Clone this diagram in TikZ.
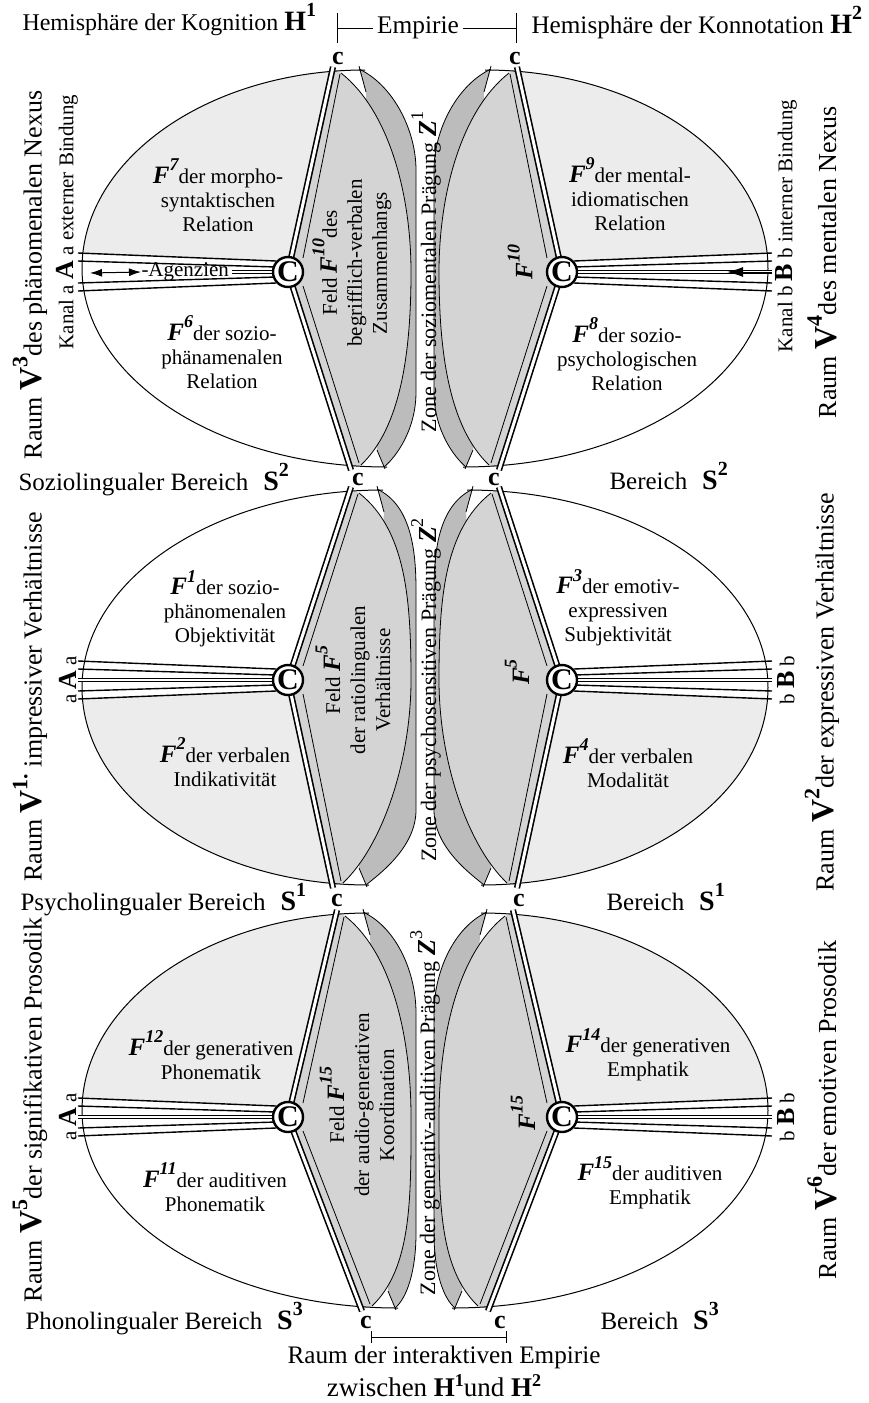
\documentclass[tikz,border=0pt]{standalone}
\usepackage{fontspec}
\setmainfont{Liberation Serif}
\usetikzlibrary{arrows.meta}

\definecolor{fieldgray}{RGB}{236,236,236}
\definecolor{lensgray}{RGB}{212,212,212}
\definecolor{zonegray}{RGB}{188,188,188}

\newcommand{\Fsym}[1]{{\fontsize{12.5}{12}\selectfont\bfseries\itshape F}\raisebox{1.3ex}{\fontsize{9}{9}\selectfont\bfseries\itshape #1}}
\newcommand{\Bsym}[2]{{\fontsize{14}{14}\selectfont\bfseries #1}\raisebox{1.2ex}{\fontsize{10}{10}\selectfont\bfseries #2}}
\newcommand{\Hsym}[1]{{\fontsize{13.5}{14}\selectfont\bfseries H}\raisebox{0.8ex}{\fontsize{9}{9}\selectfont\bfseries #1}}
\newcommand{\Vsym}[1]{{\fontsize{16}{15}\selectfont\bfseries V}\raisebox{1.2ex}{\fontsize{11}{11}\selectfont\bfseries #1}}
\newcommand{\Zsym}[1]{{\fontsize{13}{12}\selectfont\bfseries\itshape Z}\raisebox{1.3ex}{\fontsize{9}{9}\selectfont #1}}
\newcommand{\Kan}[1]{{\fontsize{13}{12}\selectfont\bfseries #1}}

\tikzset{every picture/.style={line width=0.5pt}}
\tikzset{
	ylabel/.style={inner sep=0pt, font=\fontsize{12.5}{14}\selectfont},
	raumlabel/.style={inner sep=0pt, rotate=90, font=\fontsize{13}{15}\selectfont},
	kanallabel/.style={inner sep=0pt, rotate=90, font=\fontsize{10.5}{12}\selectfont},
	fieldlabel/.style={inner sep=0pt, align=center, font=\fontsize{10.5}{12}\selectfont},
	lenslabel/.style={fieldlabel, rotate=90, font=\fontsize{10.5}{12.5}\selectfont},
	zonelabel/.style={inner sep=0pt, rotate=90, font=\fontsize{11}{12}\selectfont},
	cmark/.style={inner sep=0pt, font=\fontsize{13}{13}\selectfont\bfseries},
	knot/.style={circle, draw, line width=1.2pt, fill=white, minimum size=15pt, inner sep=0pt, font=\fontsize{15}{15}\selectfont\bfseries},
	bond/.style={draw, line width=0.8pt, double=white, double distance=1.5pt},
	core/.style={draw, line width=0.6pt, double=white, double distance=0.9pt},
	chan/.style={line width=0.7pt},
	hairline/.style={line width=0.4pt}}

\begin{document}
\begin{tikzpicture}[x=0.5pt,y=0.5pt,yscale=-1,xscale=1]
	\useasboundingbox (0,0) rectangle (868,1403);

	%Shapes: the six half blocks, right ones mirrored
	\foreach \ytop/\ycc/\ybot/\xt/\xb/\fup/\flo in {70/272/467/333/351/fieldgray/white,490/680/885/351/333/white/fieldgray,913/1117/1308/337/362/fieldgray/white}{
		\pgfmathsetmacro\ymid{(\ytop+\ybot)/2}
		\pgfmathsetmacro\ext{\xt+32}
		\pgfmathsetmacro\exb{\xb+36}
		\pgfmathsetmacro\eca{\ext-0.552*(\ext-82)}
		\pgfmathsetmacro\ecb{\ymid-0.552*(\ymid-\ytop)}
		\pgfmathsetmacro\ecc{\ymid+0.552*(\ybot-\ymid)}
		\pgfmathsetmacro\ecd{\exb-0.552*(\exb-82)}
		\foreach \sh/\sc in {0/1,850/-1}{
			\begin{scope}[shift={(\sh,0)},xscale=\sc]
				%Shape: upper and lower field
				\begin{scope}
					\clip (\ext,\ytop) .. controls (\eca,\ytop) and (82,\ecb) .. (82,\ymid) .. controls (82,\ecc) and (\ecd,\ybot) .. (\exb,\ybot) -- (\xb,\ybot) -- (288,\ycc) -- (\xt,\ytop) -- cycle;
					\path[fill=\fup] (0,{\ytop-10}) rectangle (450,\ycc);
					\path[fill=\flo] (0,\ycc) rectangle (450,{\ybot+10});
				\end{scope}
				%Shape: zone strip
				\fill[zonegray] ({\xt+26},{\ytop-1}) .. controls ({\xt+60},{\ytop+15}) and (416,{\ytop+60}) .. (416,{\ytop+100}) -- (416,{\ybot-75}) .. controls (416,{\ybot-37}) and ({\xb+45},{\ybot-10}) .. ({\xb+33},\ybot) -- ({\xb+26},{\ybot-17}) -- ({\xt+33},{\ytop+22}) -- cycle;
				%Shape: lens
				\fill[lensgray] (\xt,{\ytop-1}) -- (288,\ycc) -- (\xb,{\ybot+1}) -- ({\xb+10},{\ybot-2}) .. controls ({\xb+50},{\ybot-40}) and (411,{\ycc+80}) .. (411,\ycc) .. controls (411,{\ycc-80}) and ({\xt+55},{\ytop+40}) .. ({\xt+8},{\ytop+3}) -- cycle;
				%Shape: channel band
				\fill[white] (78,{\ycc-19}) -- (276,{\ycc-11}) -- (276,{\ycc+11}) -- (78,{\ycc+19}) -- cycle;
				%Curve Lines: outline, strip edge, lens edge
				\draw (\ext,\ytop) .. controls (\eca,\ytop) and (82,\ecb) .. (82,\ymid) .. controls (82,\ecc) and (\ecd,\ybot) .. (\exb,\ybot);
				\draw[hairline] ({\xt+26},{\ytop-1}) .. controls ({\xt+60},{\ytop+15}) and (416,{\ytop+60}) .. (416,{\ytop+100}) -- (416,{\ybot-75}) .. controls (416,{\ybot-37}) and ({\xb+45},{\ybot-10}) .. ({\xb+33},\ybot);
				\draw[hairline] ({\xb+10},{\ybot-2}) .. controls ({\xb+50},{\ybot-40}) and (411,{\ycc+80}) .. (411,\ycc) .. controls (411,{\ycc-80}) and ({\xt+55},{\ytop+40}) .. ({\xt+8},{\ytop+3});
				%Straight Lines: ticks and inner edge
				\draw[hairline] ({\xt+26},{\ytop-4}) -- ({\xt+33},{\ytop+22});
				\draw[hairline] ({\xb+26},{\ybot-17}) -- ({\xb+34},{\ybot+2});
				\draw[hairline] ({\xt+7},{\ytop+4}) -- (303,{\ycc-14});
				\draw[hairline] (303,{\ycc+14}) -- ({\xb+8},{\ybot-4});
				%Straight Lines: channel
				\draw[chan] (78,{\ycc-19}) -- (276,{\ycc-11});
				\draw[chan] (78,{\ycc-11}) -- (276,{\ycc-5});
				\draw[chan] (78,{\ycc+11}) -- (276,{\ycc+5});
				\draw[chan] (78,{\ycc+19}) -- (276,{\ycc+11});
				%Straight Lines: bond
				\draw[bond] (\xt,{\ytop-3}) -- (288,\ycc) -- (\xb,{\ybot+3});
			\end{scope}
		}
	}

	%Straight Lines: channel cores
	\draw[core] (232,272) -- (276,272);
	\draw[core] (574,272) -- (772,272);
	\draw[core] (78,680) -- (276,680);
	\draw[core] (574,680) -- (772,680);
	\draw[core] (78,1117) -- (276,1117);
	\draw[core] (574,1117) -- (772,1117);

	% Knots
	\node[knot] (knotL1) at (288,272) {C};
	\node[knot] (knotR1) at (562,272) {C};
	\node[knot] (knotL2) at (288,680) {C};
	\node[knot] (knotR2) at (562,680) {C};
	\node[knot] (knotL3) at (288,1117) {C};
	\node[knot] (knotR3) at (562,1117) {C};

	% Agenzien and channel arrows
	\node[fieldlabel, anchor=west] (agenz) at (141,272) {-Agenzien};
	\coordinate (chanA) at (90,273);
	\draw[{Latex[length=6pt,width=4pt]}-{Latex[length=6pt,width=4pt]}] (chanA) -- (agenz.west);
	\coordinate (chanB) at (772,272);
	\coordinate (tipB) at (727,272);
	\draw[-{Latex[length=8pt,width=5pt]}] (chanB) -- (tipB);

	% Text Node
	\node[ylabel, anchor=base west, font=\fontsize{12}{14}\selectfont] (hemK) at (22,30) {Hemisphäre der Kognition \Bsym{H}{1}};
	% Text Node
	\node[ylabel, anchor=base west, font=\fontsize{12.6}{14}\selectfont] (hemN) at (531,33) {Hemisphäre der Konnotation \Bsym{H}{2}};
	% Text Node
	\node[ylabel, anchor=base, font=\fontsize{12.7}{14}\selectfont] (emp) at (418,33) {Empirie};
	\coordinate (empL) at (337,28);
	\coordinate (empR) at (516,28);
	\draw (empL) -- ([xshift=-2pt]empL -| emp.west);
	\draw (empR) -- ([xshift=2pt]empR -| emp.east);
	\draw (337,13) -- (337,43);
	\draw (516,13) -- (516,43);

	% Text Node
	\node[cmark] (c0L) at (338,58) {c};
	\node[cmark] (c0R) at (515,58) {c};
	\node[cmark] (c1L) at (358,479) {c};
	\node[cmark] (c1R) at (494,479) {c};
	\node[cmark] (c2L) at (337,900) {c};
	\node[cmark] (c2R) at (519,900) {c};
	\node[cmark] (c3L) at (366,1322) {c};
	\node[cmark] (c3R) at (500,1322) {c};

	% Text Node
	\node[ylabel, anchor=base west] (soz) at (18,490) {Soziolingualer Bereich\hspace{0.6em}\Bsym{S}{2}};
	\node[ylabel, anchor=base west] (bereich2) at (609,489) {Bereich\hspace{0.6em}\Bsym{S}{2}};
	\node[ylabel, anchor=base west] (psy) at (20,910) {Psycholingualer Bereich\hspace{0.6em}\Bsym{S}{1}};
	\node[ylabel, anchor=base west] (bereich1) at (606,910) {Bereich\hspace{0.6em}\Bsym{S}{1}};
	\node[ylabel, anchor=base west] (pho) at (25,1329) {Phonolingualer Bereich\hspace{0.6em}\Bsym{S}{3}};
	\node[ylabel, anchor=base west] (bereich3) at (600,1329) {Bereich\hspace{0.6em}\Bsym{S}{3}};

	% Text Node
	\coordinate (intL) at (371,1337);
	\coordinate (intR) at (506,1337);
	\draw (intL) -- (intR);
	\draw (371,1331) -- (371,1343);
	\draw (506,1331) -- (506,1343);
	\node[ylabel, anchor=base, font=\fontsize{12.6}{14}\selectfont] (interakt) at (444,1363) {Raum der interaktiven Empirie};
	\node[ylabel, anchor=base, font=\fontsize{13.5}{14}\selectfont] (zwischen) at (434,1396) {zwischen \Hsym{1}und \Hsym{2}};

	% Text Node
	\node[raumlabel] (raum3) at (30,275) {Raum \Vsym{3}des phänomenalen Nexus};
	\node[raumlabel] (raum1) at (30,697) {Raum \Vsym{1.} impressiver Verhältnisse};
	\node[raumlabel] (raum5) at (30,1110) {Raum \Vsym{5}der signifikativen Prosodik};
	\node[raumlabel] (raum4) at (822,262) {Raum \Vsym{4}des mentalen Nexus};
	\node[raumlabel] (raum2) at (822,692) {Raum \Vsym{2}der expressiven Verhältnisse};
	\node[raumlabel] (raum6) at (822,1110) {Raum \Vsym{6}der emotiven Prosodik};

	% Text Node
	\node[kanallabel] (kanalA) at (67,222) {Kanal a \Kan{A} a externer Bindung};
	\node[kanallabel] (kanalB) at (786,226) {Kanal b \Kan{B} b interner Bindung};
	\node[kanallabel] (aA2) at (68,680) {a \Kan{A} a};
	\node[kanallabel] (aA3) at (68,1117) {a \Kan{A} a};
	\node[kanallabel] (bB2) at (786,680) {b \Kan{B} b};
	\node[kanallabel] (bB3) at (786,1117) {b \Kan{B} b};

	% Text Node
	\node[fieldlabel] (f7) at (218,195) {\Fsym{7}der morpho-\\syntaktischen\\Relation};
	\node[fieldlabel] (f6) at (222,352) {\Fsym{6}der sozio-\\phänamenalen\\Relation};
	\node[fieldlabel] (f9) at (630,194) {\Fsym{9}der mental-\\idiomatischen\\Relation};
	\node[fieldlabel] (f8) at (627,354) {\Fsym{8}der sozio-\\psychologischen\\Relation};
	\node[fieldlabel] (f1) at (225,609) {\Fsym{1}der sozio-\\phänomenalen\\Objektivität};
	\node[fieldlabel] (f2) at (225,762) {\Fsym{2}der verbalen\\Indikativität};
	\node[fieldlabel] (f3) at (618,608) {\Fsym{3}der emotiv-\\expressiven\\Subjektivität};
	\node[fieldlabel] (f4) at (628,763) {\Fsym{4}der verbalen\\Modalität};
	\node[fieldlabel] (f12) at (211,1055) {\Fsym{12}der generativen\\Phonematik};
	\node[fieldlabel] (f11) at (215,1187) {\Fsym{11}der auditiven\\Phonematik};
	\node[fieldlabel] (f14) at (648,1055) {\Fsym{14}der generativen\\Emphatik};
	\node[fieldlabel] (f15) at (650,1183) {\Fsym{15}der auditiven\\Emphatik};

	% Text Node
	\node[lenslabel] (feld10) at (352,263) {Feld \Fsym{10}des\\begrifflich-verbalen\\Zusammenhangs};
	\node[lenslabel] (f10r) at (520,262) {\Fsym{10}};
	\node[lenslabel] (feld5) at (353,680) {Feld \Fsym{5}\\der ratiolingualen\\Verhältnisse};
	\node[lenslabel] (f5r) at (517,672) {\Fsym{5}};
	\node[lenslabel] (feld15) at (357,1105) {Feld \Fsym{15}\\der audio-generativen\\Koordination};
	\node[lenslabel] (f15r) at (523,1113) {\Fsym{15}};

	% Text Node
	\node[zonelabel] (zone1) at (426,272) {Zone der soziomentalen Prägung \Zsym{1}};
	\node[zonelabel] (zone2) at (426,690) {Zone der psychosensitiven Prägung \Zsym{2}};
	\node[zonelabel] (zone3) at (425,1113) {Zone der generativ-auditiven Prägung \Zsym{3}};

\end{tikzpicture}
\end{document}
